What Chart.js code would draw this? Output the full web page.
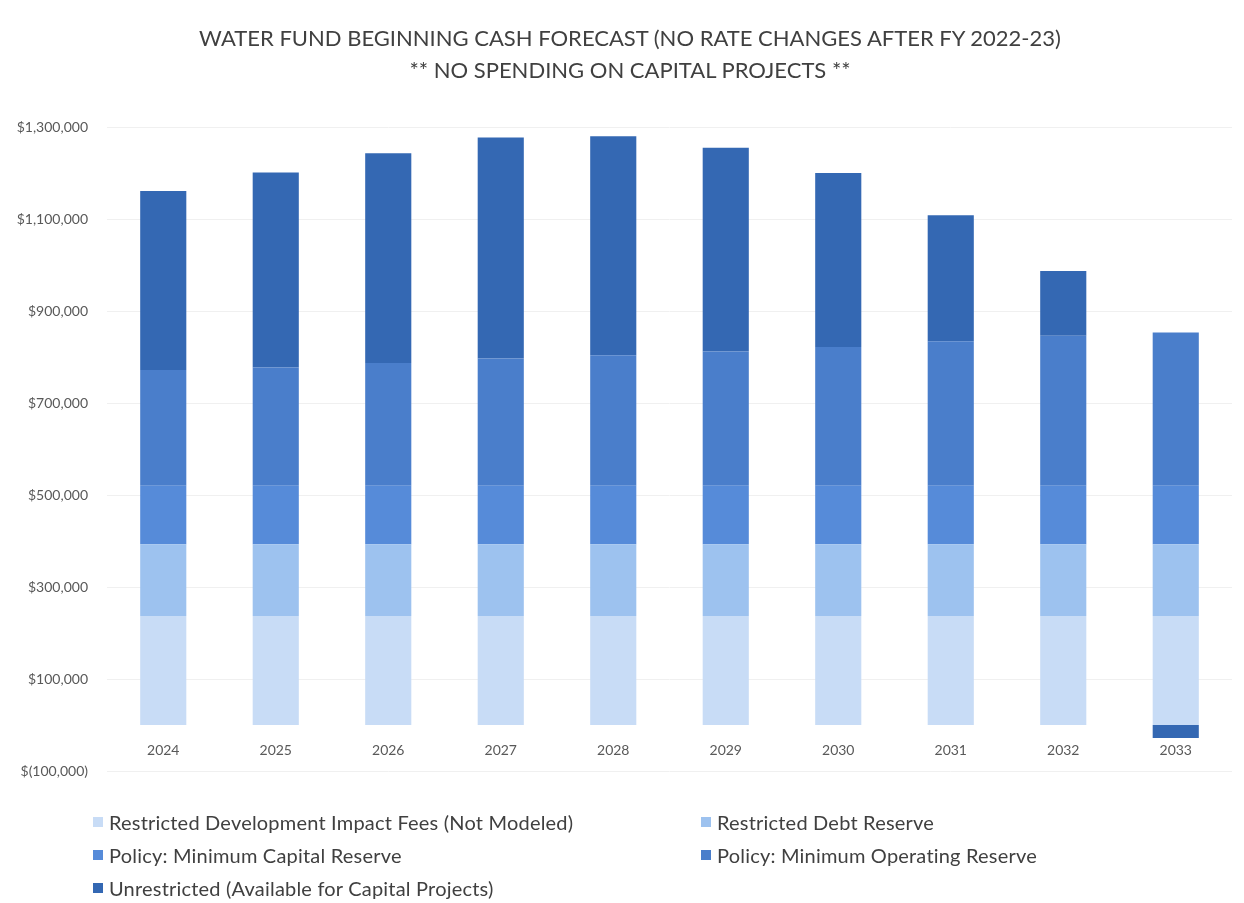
<!DOCTYPE html>
<html>
<head>
<meta charset="utf-8">
<title>Water Fund Beginning Cash Forecast</title>
<script src="https://cdn.jsdelivr.net/npm/chart.js@4.4.0/dist/chart.umd.min.js"></script>
<style>
    html, body { margin: 0; padding: 0; background: #fff; }
    #wrap { position: relative; width: 1244px; height: 903px; overflow: hidden; }
    #title { position: absolute; left: 0; top: 22px; width: 1260px; text-align: center; font-family: Lato, sans-serif; font-size: 22px; line-height: 32px; color: #404040; }
    #legend { position: absolute; left: 93px; top: 810px; font-family: Lato, sans-serif; font-size: 20px; letter-spacing: 0.2px; color: #404040; }
    .item { position: absolute; display: flex; align-items: center; white-space: nowrap; height: 24px; }
    .box { width: 10px; height: 10px; margin-right: 6px; }
</style>
</head>
<body>
<div id="wrap">
    <canvas id="myChart" width="1244" height="903"></canvas>
    <div id="title">WATER FUND BEGINNING CASH FORECAST (NO RATE CHANGES AFTER FY 2022-23)<br>** NO SPENDING ON CAPITAL PROJECTS **</div>
    <div id="legend"></div>
</div>
<script>
/* data */
const years = ["2024", "2025", "2026", "2027", "2028", "2029", "2030", "2031", "2032", "2033"];
const impactFees = [237000, 237000, 237000, 237000, 237000, 237000, 237000, 237000, 237000, 237000];
const debtReserve = [156000, 156000, 156000, 156000, 156000, 156000, 156000, 156000, 156000, 156000];
const capitalReserve = [127000, 127000, 127000, 127000, 127000, 127000, 127000, 127000, 127000, 127000];
const operatingReserve = [252000, 257000, 267000, 277000, 284000, 292000, 302000, 314000, 326000, 333000];
const unrestricted = [389000, 424000, 456000, 480000, 476000, 443000, 378000, 274000, 141000, -28000];

const seriesNames = [
    "Restricted Development Impact Fees (Not Modeled)",
    "Restricted Debt Reserve",
    "Policy: Minimum Capital Reserve",
    "Policy: Minimum Operating Reserve",
    "Unrestricted (Available for Capital Projects)"
];
const seriesColors = ["#c8dcf6", "#9dc2ef", "#568bd9", "#4a7ecb", "#3468b3"];
const seriesValues = [impactFees, debtReserve, capitalReserve, operatingReserve, unrestricted];

function money(v) {
    const s = Math.abs(v).toLocaleString("en-US");
    return v < 0 ? "$(" + s + ")" : "$" + s;
}

let datasets = [];
for (var i = 0; i < seriesNames.length; i++) {
    datasets.push({
        label: seriesNames[i],
        data: seriesValues[i],
        backgroundColor: seriesColors[i],
        borderWidth: 0,
        categoryPercentage: 1,
        barPercentage: 0.41
    });
}

const config = {
    type: "bar",
    data: { labels: years, datasets: datasets },
    options: {
        responsive: false,
        animation: false,
        layout: { padding: { top: 127, right: 12, left: 0, bottom: 132 } },
        plugins: {
            legend: { display: false },
            tooltip: { enabled: false },
            title: { display: false }
        },
        scales: {
            x: {
                stacked: true,
                position: { y: 0 },
                grid: { display: false, drawTicks: false },
                border: { display: false },
                ticks: { color: "#595959", font: { family: "Lato", size: 14 }, padding: 17 }
            },
            y: {
                stacked: true,
                min: -100000,
                max: 1300000,
                afterFit: (scale) => { scale.width = 107; },
                ticks: {
                    stepSize: 200000,
                    color: "#595959",
                    font: { family: "Lato", size: 14 },
                    padding: 19,
                    callback: (v) => money(v)
                },
                grid: { color: "#f0f0f0", drawTicks: false },
                border: { display: false }
            }
        }
    }
};

const myChart = new Chart(document.getElementById("myChart"), config);

/* legend in two columns like the original */
const legend = document.getElementById("legend");
seriesNames.forEach((name, i) => {
    const item = document.createElement("div");
    item.className = "item";
    item.style.left = (i % 2 ? 608 : 0) + "px";
    item.style.top = Math.floor(i / 2) * 33 + "px";
    item.innerHTML = '<span class="box" style="background:' + seriesColors[i] + '"></span><span>' + name + "</span>";
    legend.appendChild(item);
});
</script>
</body>
</html>
